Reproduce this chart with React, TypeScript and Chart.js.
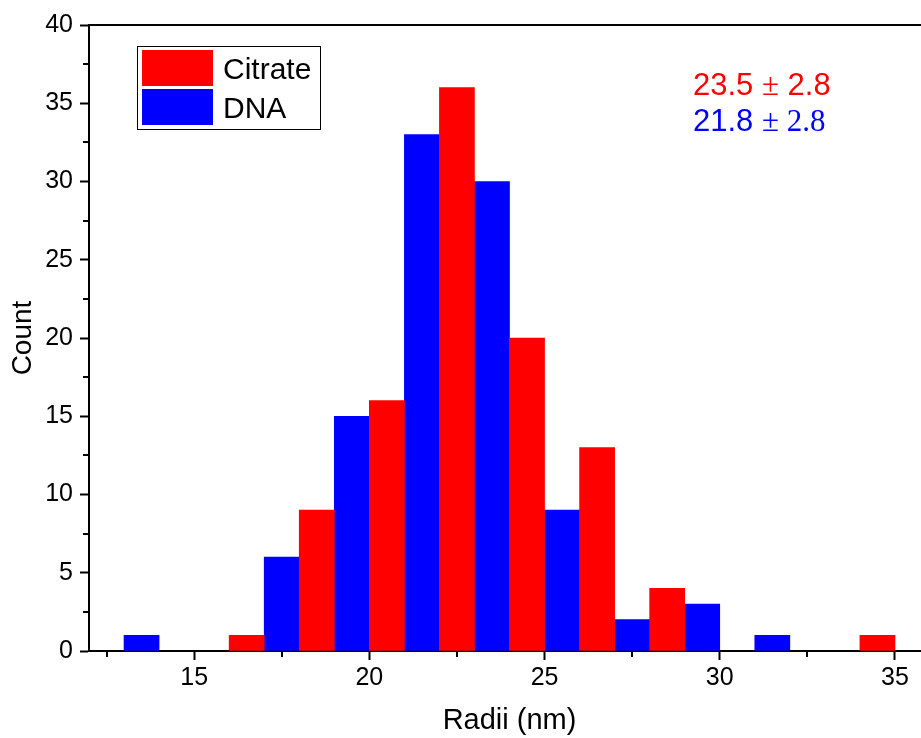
import React, { useEffect, useRef } from "react";
import { Chart, registerables } from "chart.js";

Chart.register(...registerables);

// ---- data ----
const citrateRadii = [16.5, 18.5, 20.5, 22.5, 24.5, 26.5, 28.5, 34.5];
const citrateCounts = [1, 9, 16, 36, 20, 13, 4, 1];
const dnaRadii = [13.5, 17.5, 19.5, 21.5, 23.5, 25.5, 27.5, 29.5, 31.5];
const dnaCounts = [1, 6, 15, 33, 30, 9, 2, 3, 1];
const seriesLabels = ["Citrate", "DNA"];
const seriesColors = ["#ff0000", "#0000ff"];
const meanValues = ["23.5", "21.8"];
const sdValues = ["2.8", "2.8"];
const xTitle = "Radii (nm)";
const yTitle = "Count";

const SANS = '"Liberation Sans", Arial, sans-serif';
const SERIF = '"Liberation Serif", "Times New Roman", serif';

const frameAndMinorTicks = {
  id: "frameAndMinorTicks",
  afterDraw(chart: any) {
    const { ctx, chartArea } = chart;
    const xs = chart.scales.x;
    const ys = chart.scales.y;
    ctx.save();
    ctx.strokeStyle = "#000";
    ctx.lineWidth = 2;
    // frame lines (top and right)
    ctx.beginPath();
    ctx.moveTo(chartArea.left - 1, chartArea.top);
    ctx.lineTo(chartArea.right, chartArea.top);
    ctx.lineTo(chartArea.right, chartArea.bottom);
    ctx.stroke();
    // minor ticks x
    const xStep = 5;
    for (let v = Math.ceil(xs.min / xStep) * xStep - xStep / 2; v <= xs.max; v += xStep) {
      if (v < xs.min) continue;
      const px = Math.round(xs.getPixelForValue(v));
      ctx.beginPath();
      ctx.moveTo(px, chartArea.bottom);
      ctx.lineTo(px, chartArea.bottom + 6);
      ctx.stroke();
    }
    const yStep = 5;
    for (let v = yStep / 2; v < ys.max; v += yStep) {
      const py = Math.round(ys.getPixelForValue(v));
      ctx.beginPath();
      ctx.moveTo(chartArea.left, py);
      ctx.lineTo(chartArea.left - 6, py);
      ctx.stroke();
    }
    ctx.restore();
  },
};

const legendBox = {
  id: "legendBox",
  afterDraw(chart: any) {
    const { ctx, chartArea } = chart;
    const left = chartArea.left + 48;
    const top = chartArea.top + 21;
    const w = 183;
    const h = 83;
    ctx.save();
    ctx.fillStyle = "#fff";
    ctx.fillRect(left, top, w, h);
    ctx.strokeStyle = "#000";
    ctx.lineWidth = 1;
    ctx.strokeRect(left + 0.5, top + 0.5, w, h);
    ctx.font = `30px ${SANS}`;
    ctx.textBaseline = "alphabetic";
    ctx.textAlign = "left";
    chart.data.datasets.forEach((ds: any, i: number) => {
      const sy = top + 4 + i * 39;
      ctx.fillStyle = ds.backgroundColor;
      ctx.fillRect(left + 5, sy, 71, 36);
      ctx.fillStyle = "#000";
      ctx.fillText(ds.label, left + 86, sy + 29);
    });
    ctx.restore();
  },
};

const statsText = {
  id: "statsText",
  afterDraw(chart: any) {
    const { ctx, chartArea } = chart;
    const x0 = chartArea.left + 604;
    ctx.save();
    ctx.textBaseline = "alphabetic";
    ctx.textAlign = "left";
    const lines = [
      { parts: [[meanValues[0] + " ", SANS], ["\u00B1", SERIF], [" " + sdValues[0], SANS]], color: seriesColors[0], dy: 70 },
      { parts: [[meanValues[1] + " ", SANS], ["\u00B1 " + sdValues[1], SERIF]], color: seriesColors[1], dy: 106 },
    ];
    lines.forEach((ln) => {
      let x = x0;
      ctx.fillStyle = ln.color;
      ln.parts.forEach(([t, f]) => {
        ctx.font = `31px ${f}`;
        ctx.fillText(t, x, chartArea.top + ln.dy);
        x += ctx.measureText(t).width;
      });
    });
    ctx.restore();
  },
};

export default function App() {
  const ref = useRef<HTMLCanvasElement | null>(null);
  useEffect(() => {
    if (!ref.current) return;
    const chart = new Chart(ref.current, {
      type: "bar",
      data: {
        datasets: [
          {
            label: seriesLabels[0],
            data: citrateRadii.map((x, i) => ({ x, y: citrateCounts[i] })),
            backgroundColor: seriesColors[0],
            borderWidth: 0,
          },
          {
            label: seriesLabels[1],
            data: dnaRadii.map((x, i) => ({ x, y: dnaCounts[i] })),
            backgroundColor: seriesColors[1],
            borderWidth: 0,
          },
        ],
      },
      options: {
        animation: false,
        responsive: false,
        devicePixelRatio: 1,
        grouped: false,
        barPercentage: 1,
        categoryPercentage: 1,
        layout: { padding: { top: 25, left: 0, right: 0, bottom: 0 } },
        plugins: { legend: { display: false }, tooltip: { enabled: false } },
        scales: {
          x: {
            type: "linear",
            offset: false,
            min: 12,
            max: 36,
            border: { display: true, color: "#000", width: 2 },
            grid: { display: true, offset: false, drawOnChartArea: false, drawTicks: true, tickLength: 9, tickColor: "#000", tickWidth: 2 },
            ticks: {
              stepSize: 5,
              includeBounds: false,
              color: "#000",
              font: { family: SANS, size: 25 },
              padding: 3,
              maxRotation: 0,
            },
            title: { display: true, text: xTitle, color: "#000", font: { family: SANS, size: 29 }, padding: { top: 0, bottom: 0 } },
            afterFit(scale: any) {
              scale.height = 87;
            },
          },
          y: {
            min: 0,
            max: 40,
            border: { display: true, color: "#000", width: 2 },
            grid: { display: true, drawOnChartArea: false, drawTicks: true, tickLength: 9, tickColor: "#000", tickWidth: 2 },
            ticks: {
              stepSize: 5,
              color: "#000",
              font: { family: SANS, size: 25 },
              padding: 7,
            },
            title: { display: true, text: yTitle, color: "#000", font: { family: SANS, size: 28 }, padding: { top: 6, bottom: 0 } },
            afterFit(scale: any) {
              scale.width = 89;
            },
          },
        },
      } as any,
      plugins: [frameAndMinorTicks, legendBox, statsText],
    });
    return () => chart.destroy();
  }, []);
  return (
    <div style={{ position: "absolute", left: 0, top: 0, width: 921, height: 738, overflow: "hidden", background: "#fff" }}>
      <canvas ref={ref} width={930} height={738} style={{ display: "block" }} />
    </div>
  );
}
